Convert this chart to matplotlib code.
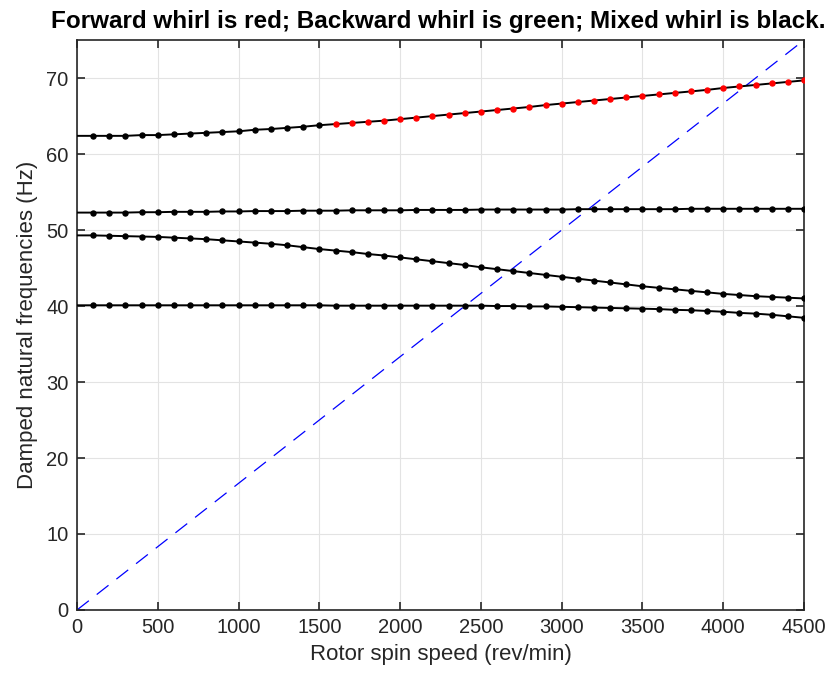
import numpy as np
import matplotlib
matplotlib.use("Agg")
import matplotlib.pyplot as plt

plt.rcParams['font.family'] = ['Liberation Sans', 'DejaVu Sans']

# rotor speed (rev/min), one point every 100
speed = np.arange(0, 4501, 100)

mode1 = [40.1, 40.1, 40.1, 40.1, 40.1, 40.1, 40.1, 40.1, 40.1, 40.1,
         40.1, 40.1, 40.1, 40.1, 40.1, 40.1, 40.05, 40.05, 40.05, 40.05,
         40.05, 40.05, 40.05, 40.05, 40.05, 40.05, 40.0, 40.0, 39.95, 39.95,
         39.9, 39.85, 39.8, 39.75, 39.7, 39.65, 39.6, 39.5, 39.45, 39.35,
         39.25, 39.1, 39.0, 38.85, 38.65, 38.45]
mode2 = [49.3, 49.3, 49.25, 49.2, 49.15, 49.1, 49.0, 48.9, 48.8, 48.65,
         48.5, 48.35, 48.2, 48.0, 47.75, 47.5, 47.3, 47.1, 46.85, 46.65,
         46.4, 46.15, 45.9, 45.65, 45.4, 45.1, 44.85, 44.6, 44.35, 44.1,
         43.85, 43.6, 43.35, 43.1, 42.85, 42.6, 42.4, 42.2, 42.0, 41.8,
         41.6, 41.45, 41.3, 41.2, 41.1, 41.0]
mode3 = [52.3, 52.3, 52.3, 52.3, 52.35, 52.35, 52.4, 52.4, 52.4, 52.45,
         52.45, 52.5, 52.5, 52.5, 52.55, 52.55, 52.55, 52.6, 52.6, 52.6,
         52.6, 52.65, 52.65, 52.65, 52.65, 52.7, 52.7, 52.7, 52.7, 52.7,
         52.7, 52.75, 52.75, 52.75, 52.75, 52.75, 52.75, 52.75, 52.8, 52.8,
         52.8, 52.8, 52.8, 52.8, 52.8, 52.8]
mode4 = [62.4, 62.4, 62.4, 62.4, 62.5, 62.5, 62.6, 62.7, 62.8, 62.9,
         63.0, 63.2, 63.3, 63.45, 63.6, 63.8, 63.95, 64.1, 64.25, 64.4,
         64.6, 64.8, 65.0, 65.2, 65.4, 65.6, 65.8, 66.0, 66.2, 66.45,
         66.65, 66.85, 67.05, 67.25, 67.45, 67.65, 67.85, 68.05, 68.25, 68.45,
         68.7, 68.9, 69.1, 69.3, 69.5, 69.7]
# whirl type per point: 'f' forward, 'm' mixed
whirl4 = ['m'] * 16 + ['f'] * 30

fig = plt.figure(figsize=(8.31, 6.8), dpi=100)
ax = fig.add_axes([0.0927, 0.103, 0.8748, 0.838])

for m in [mode1, mode2, mode3]:
    ax.plot(speed, m, color='k', lw=1.4, zorder=3)
    ax.plot(speed[1:], m[1:], 'o', color='k', ms=3.6, zorder=4)

ax.plot(speed, mode4, color='k', lw=1.4, zorder=3)
m4 = np.array(mode4)
w = np.array(whirl4)
sel = (w == 'm') & (speed > 0)
ax.plot(speed[sel], m4[sel], 'o', color='k', ms=3.6, zorder=4)
sel = w == 'f'
ax.plot(speed[sel], m4[sel], 'o', color='r', ms=3.6, zorder=4)

# 1X excitation line
ax.plot(speed, speed / 60.0, '--', color='b', lw=0.9, dashes=(12, 8), zorder=2)

ax.set_xlim(0, 4500)
ax.set_ylim(0, 75)
ax.set_xticks(np.arange(0, 4501, 500))
ax.set_yticks(np.arange(0, 71, 10))
ax.grid(True, color='#e3e3e3', lw=0.8)
ax.set_axisbelow(True)
ax.tick_params(direction='in', top=True, right=True, labelsize=14.5,
               colors='#262626', length=6, width=1.2, pad=6)
for s in ax.spines.values():
    s.set_color('#262626')
    s.set_linewidth(1.2)

ax.set_xlabel('Rotor spin speed (rev/min)', fontsize=16, color='#262626', labelpad=5)
ax.set_ylabel('Damped natural frequencies (Hz)', fontsize=16, color='#262626', labelpad=6)
ax.set_title('Forward whirl is red; Backward whirl is green; Mixed whirl is black.',
             fontsize=17.5, fontweight='bold', pad=9, x=0.497)

fig.savefig('out.png', dpi=100)
